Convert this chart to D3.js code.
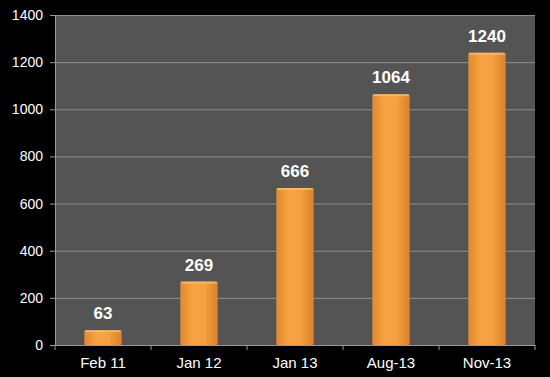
<!DOCTYPE html>
<html>
<head>
<meta charset="utf-8">
<script src="https://cdn.jsdelivr.net/npm/d3@7"></script>
<style>
  body { margin: 0; background: #000; }
  svg { display: block; font-family: "Liberation Sans", Arial, sans-serif; }
</style>
</head>
<body>
<div class="chart"></div>
<script>
// data
var categories = ["Feb 11", "Jan 12", "Jan 13", "Aug-13", "Nov-13"];
var values = [63, 269, 666, 1064, 1240];
var yTicks = [0, 200, 400, 600, 800, 1000, 1200, 1400];

var width = 550, height = 377;
var margin = {top: 15, right: 15, bottom: 32, left: 55};

var svg = d3.select(".chart")
    .append("svg")
    .attr("width", width)
    .attr("height", height);

svg.append("rect")
    .attr("width", width)
    .attr("height", height)
    .attr("fill", "#000");

var x = d3.scaleBand()
    .domain(categories)
    .range([margin.left, width - margin.right])
    .paddingInner(0.61)
    .paddingOuter(0.305);

var y = d3.scaleLinear()
    .domain([0, 1400])
    .range([height - margin.bottom, margin.top]);

// bar gradient
var defs = svg.append("defs");
var grad = defs.append("linearGradient")
    .attr("id", "barGrad")
    .attr("x1", "0%").attr("x2", "100%")
    .attr("y1", "0%").attr("y2", "0%");
grad.append("stop").attr("offset", "0%").attr("stop-color", "#e0892e");
grad.append("stop").attr("offset", "35%").attr("stop-color", "#f8a445");
grad.append("stop").attr("offset", "65%").attr("stop-color", "#f6a040");
grad.append("stop").attr("offset", "100%").attr("stop-color", "#d9802a");

// plot background
svg.append("rect")
    .attr("x", margin.left)
    .attr("y", margin.top)
    .attr("width", width - margin.left - margin.right)
    .attr("height", height - margin.top - margin.bottom)
    .attr("fill", "#545454");

// gridlines
svg.append("g")
    .selectAll("line")
    .data(yTicks.slice(1))
    .enter()
    .append("line")
    .attr("x1", margin.left)
    .attr("x2", width - margin.right)
    .attr("y1", function(d){ return y(d) + 0.5; })
    .attr("y2", function(d){ return y(d) + 0.5; })
    .attr("stroke", "#8e8e8e")
    .attr("stroke-width", 1);

// bars
svg.append("g")
    .selectAll("rect")
    .data(values)
    .enter()
    .append("rect")
    .attr("x", function(d, i){ return x(categories[i]); })
    .attr("y", function(d){ return y(d); })
    .attr("width", x.bandwidth())
    .attr("height", function(d){ return y(0) - y(d); })
    .attr("rx", 1.5)
    .attr("fill", "url(#barGrad)");

// top highlight of each bar
svg.append("g")
    .selectAll("rect")
    .data(values)
    .enter()
    .append("rect")
    .attr("x", function(d, i){ return x(categories[i]) + 1; })
    .attr("y", function(d){ return y(d); })
    .attr("width", x.bandwidth() - 2)
    .attr("height", 2)
    .attr("fill", "#fbc27a")
    .attr("opacity", 0.7);

// value labels
svg.append("g")
    .selectAll("text")
    .data(values)
    .enter()
    .append("text")
    .attr("x", function(d, i){ return x(categories[i]) + x.bandwidth() / 2; })
    .attr("y", function(d){ return y(d) - 11; })
    .attr("text-anchor", "middle")
    .attr("fill", "#fff")
    .style("font-size", "17px")
    .style("font-weight", "bold")
    .text(function(d){ return d; });

// axes
var xAxis = d3.axisBottom(x).tickSize(0).tickPadding(12);
var gx = svg.append("g")
    .attr("transform", "translate(0," + y(0) + ")")
    .call(xAxis);
gx.select(".domain").attr("stroke", "#9a9a9a");
gx.selectAll("text")
    .attr("fill", "#fff")
    .style("font-family", "'Liberation Sans', Arial, sans-serif")
    .style("font-size", "15px");

// category boundary ticks
var bounds = d3.range(categories.length + 1).map(function(i){
    return margin.left + i * x.step();
});
svg.append("g")
    .selectAll("line")
    .data(bounds)
    .enter()
    .append("line")
    .attr("x1", function(d){ return d; })
    .attr("x2", function(d){ return d; })
    .attr("y1", y(0))
    .attr("y2", y(0) + 5)
    .attr("stroke", "#9a9a9a");

var yAxis = d3.axisLeft(y).tickValues(yTicks).tickFormat(d3.format("d")).tickSize(5).tickPadding(7);
var gy = svg.append("g")
    .attr("transform", "translate(" + margin.left + ",0)")
    .call(yAxis);
gy.select(".domain").attr("stroke", "#9a9a9a");
gy.selectAll(".tick line").attr("stroke", "#9a9a9a");
gy.selectAll("text")
    .attr("fill", "#fff")
    .style("font-family", "'Liberation Sans', Arial, sans-serif")
    .style("font-size", "14px");
</script>
</body>
</html>
